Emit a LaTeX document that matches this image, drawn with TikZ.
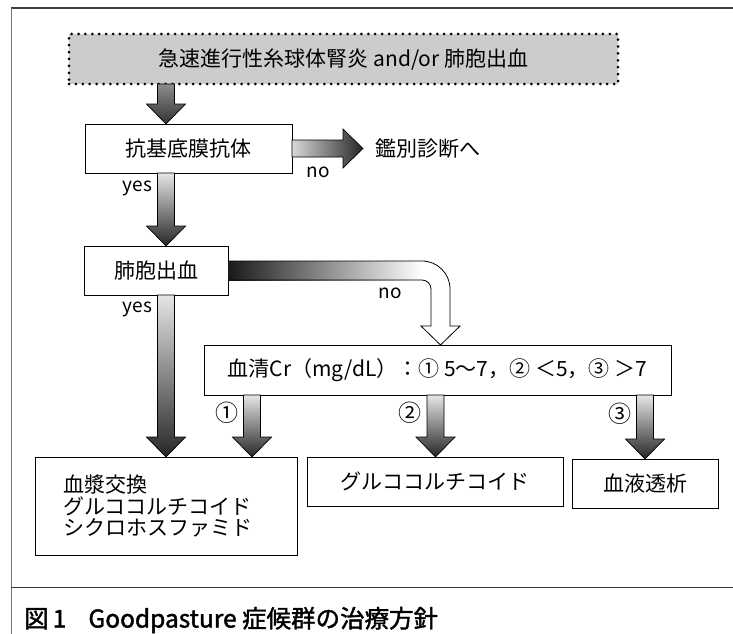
\documentclass[tikz,border=0pt]{standalone}
\usepackage{fontspec}
\setmainfont{Noto Sans CJK JP}
\newfontfamily\capfont[FakeBold=1.6]{Noto Sans CJK JP}
\usetikzlibrary{calc}
\newcommand\fsz[1]{\fontsize{#1pt}{#1pt}\selectfont}
\tikzset{
  box/.style={draw=black, line width=0.8pt, rectangle, inner sep=0pt, outer sep=0pt, font=\fsz{21}},
  topbox/.style={draw=black, fill=black!20, line width=3pt, line cap=round, dash pattern=on 0pt off 6.9pt, rectangle, inner sep=0pt, outer sep=0pt, font=\fsz{21}},
  lbl/.style={font=\fsz{19}, inner sep=0pt, outer sep=0pt},
  grad/.style={draw=black, line width=0.7pt, top color=black!10, bottom color=black!85},
  gradtop/.style={draw=black, line width=0.7pt, top color=black!45, bottom color=black!80},
  gradh/.style={draw=black, line width=0.7pt, left color=black!15, right color=black!85},
}
\newcommand\dnarr[3][]{\path[#1] let \p1=(#2), \p2=(#3) in
  (\x1-8.5pt,\y1) -- (\x1+8.5pt,\y1) -- (\x1+8.5pt,\y2+20pt) -- (\x1+19.5pt,\y2+20pt)
  -- (\x1,\y2) -- (\x1-19.5pt,\y2+20pt) -- (\x1-8.5pt,\y2+20pt) -- cycle;}
\newcommand\rtarr[3][]{\path[#1] let \p1=(#2), \p2=(#3) in
  (\x1,\y1+8.5pt) -- (\x2-20pt,\y1+8.5pt) -- (\x2-20pt,\y1+19.5pt) -- (\x2,\y1)
  -- (\x2-20pt,\y1-19.5pt) -- (\x2-20pt,\y1-8.5pt) -- (\x1,\y1-8.5pt) -- cycle;}
\begin{document}
\begin{tikzpicture}[x=1pt,y=-1pt]
\useasboundingbox (0,0) rectangle (733,634);
\fill[white] (0,0) rectangle (733,634);
% frame
\draw[black!75, line width=1.4pt] (11,8) -- (733,8);
\draw[black!55, line width=0.7pt] (11,8) -- (11,634);
\draw[black!80, line width=1pt] (11,587) -- (733,587);
% columns
\coordinate (c0) at (166,0);
\coordinate (c1) at (252,0);
\coordinate (c2) at (435.5,0);
\coordinate (c3) at (645,0);
\coordinate (cno) at (440.5,0);
% nodes
\node[topbox, minimum width=549, minimum height=50] (top) at (343.5,59) {急速進行性糸球体腎炎 and/or 肺胞出血};
\node[box, minimum width=207, minimum height=49] (ab) at (188.5,148.5) {抗基底膜抗体};
\node[lbl, font=\fsz{21}, anchor=west, inner xsep=12pt] (dd) at (363,148.5) {鑑別診断へ};
\node[box, minimum width=144, minimum height=49] (lung) at (156,270.5) {肺胞出血};
\node[box, minimum width=467, minimum height=50] (cr) at (437.5,370) {血清Cr（mg/dL）：① 5～7，② ＜5，③ ＞7};
\node[box, minimum width=262, minimum height=98, align=left, text width=206, inner xsep=28pt] (lb) at (166,506) {\fsz{21}\baselineskip=22pt 血漿交換\\グルココルチコイド\\シクロホスファミド};
\node[box, minimum width=256, minimum height=49] (mb) at (435,481.5) {グルココルチコイド};
\node[box, minimum width=146, minimum height=49] (rb) at (645,483.5) {血液透析};
% labels
\node[lbl] (no1) at (318,172) {no};
\node[lbl] (yes1) at (137.5,188) {yes};
\node[lbl] (no2) at (390,293) {no};
\node[lbl] (yes2) at (137.5,309) {yes};
\node[lbl, font=\fsz{23}] (l1) at (227,413) {①};
\node[lbl, font=\fsz{23}] (l2) at (410,413) {②};
\node[lbl, font=\fsz{23}] (l3) at (620,414) {③};
% arrows
\dnarr[gradtop]{top.south -| c0}{ab.north -| c0}
\rtarr[gradh]{ab.east}{dd.west}
\dnarr[grad]{ab.south -| c0}{lung.north -| c0}
\dnarr[grad]{lung.south -| c0}{lb.north -| c0}
\dnarr[grad]{cr.south -| c1}{lb.north -| c1}
\dnarr[grad]{cr.south -| c2}{mb.north -| c2}
\dnarr[grad]{cr.south -| c3}{rb.north -| c3}
% curved no arrow
\path[left color=black!90, right color=white] let \p1=(lung.east), \p2=(cr.north -| cno) in
  (\x1,\y1+9.5pt) rectangle (\x2-18.5pt,\y1-9.5pt);
\draw[line width=0.8pt] let \p1=(lung.east), \p2=(cr.north -| cno) in
  (\x1,\y1+9.5pt) -- (\x2-18.5pt,\y1+9.5pt) arc[start angle=90,end angle=0,radius=28pt]
  -- (\x2+9.5pt,\y2+19pt) -- (\x2+19.5pt,\y2+19pt) -- (\x2,\y2) -- (\x2-19.5pt,\y2+19pt)
  -- (\x2-9.5pt,\y2+19pt) -- (\x2-9.5pt,\y1-18.5pt) arc[start angle=0,end angle=90,radius=9pt]
  -- (\x1,\y1-9.5pt);
% caption
\node[anchor=west, inner sep=0pt, font=\capfont\fsz{24.5}] (cap) at (24,620) {図\,1\hspace{0.9em}Goodpasture 症候群の治療方針};
\end{tikzpicture}
\end{document}
